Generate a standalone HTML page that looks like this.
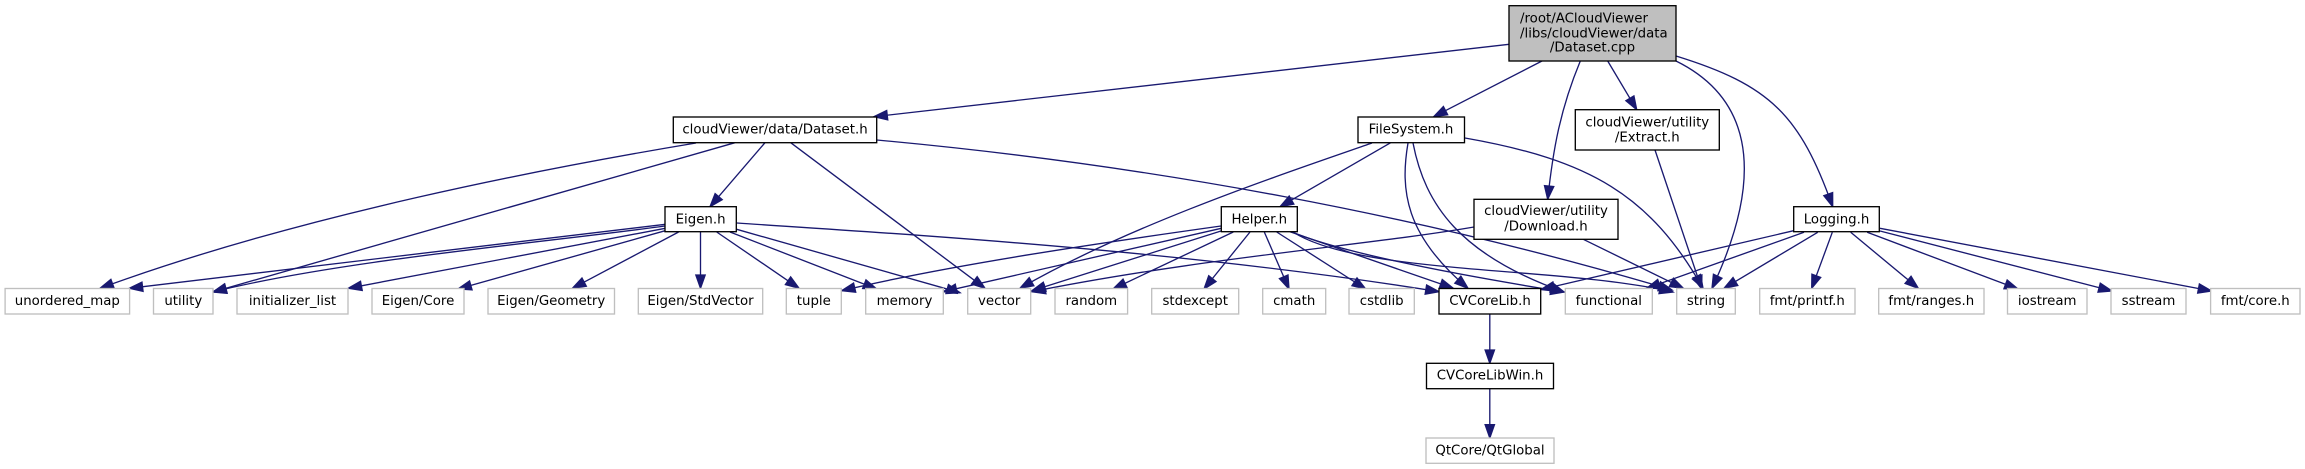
<!DOCTYPE html>
<html>
<head>
<meta charset="utf-8">
<title>Dataset.cpp include graph</title>
<style>
html,body{margin:0;padding:0;background:#fff;width:2305px;height:469px;overflow:hidden}
svg{display:block}
text{font-family:"DejaVu Sans","Liberation Sans",sans-serif;font-size:13.33px;fill:#000;text-anchor:middle}
.n rect{fill:#fff;stroke:#000;stroke-width:1.33}
.g rect{fill:#fff;stroke:#bfbfbf;stroke-width:1.33}
.e path{fill:none;stroke:#191970;stroke-width:1.33;marker-end:url(#a)}
</style>
</head>
<body>
<svg xmlns="http://www.w3.org/2000/svg" width="2305" height="469" viewBox="0 0 2305 469">
<defs>
<marker id="a" markerUnits="userSpaceOnUse" markerWidth="16" markerHeight="12" refX="13.3" refY="4.67" orient="auto" overflow="visible">
<path d="M0,0L13.3,4.67L0,9.33Z" fill="#191970" stroke="#191970" stroke-width="1.33"/>
</marker>
</defs>
<g class="e">
<!-- root -->
<path d="M1509,44.3L874,116.7"/>
<path d="M1542,61L1433.7,116.7"/>
<path d="M1580.3,61C1560,110 1553,150 1547.7,199.3"/>
<path d="M1607.7,61L1636.7,109.7"/>
<path d="M1676,61C1745,95 1770,165 1712,288.3"/>
<path d="M1676,56C1770,85 1800,115 1832.7,206.7"/>
<!-- Dataset.h -->
<path d="M696,143C546,168 300,215 100,288.3"/>
<path d="M735,142.7L213,292"/>
<path d="M765,142.7L710,206.7"/>
<path d="M790.7,142.7L985,288.3"/>
<path d="M876.7,140C1150,165 1420,215 1672,290"/>
<!-- Eigen.h -->
<path d="M665.3,224.3L129.3,288.3"/>
<path d="M665,226C550,242 340,260 213,292"/>
<path d="M665.3,228.3L348.3,288.3"/>
<path d="M665.3,230.7L458,289"/>
<path d="M678.6,232L572.4,288.3"/>
<path d="M700.5,232L700.5,288.3"/>
<path d="M716.7,232L799,288.3"/>
<path d="M730,232L876.7,289"/>
<path d="M736.7,229.3L960,292.7"/>
<path d="M737,223C900,234 1180,250 1439,291.7"/>
<!-- FileSystem.h -->
<path d="M1372,143C1280,175 1130,225 1020,288.3"/>
<path d="M1390.7,142.7L1280,206.7"/>
<path d="M1408,143C1400,190 1405,235 1468,288.3"/>
<path d="M1413,143C1425,205 1460,255 1564,292"/>
<path d="M1465,138C1590,160 1650,195 1703,288.3"/>
<!-- Helper.h -->
<path d="M1221,226C1100,243 950,265 841.7,290.7"/>
<path d="M1221.3,228.3L943.3,291.7"/>
<path d="M1221,231L1032,290.7"/>
<path d="M1233.3,232L1113,289"/>
<path d="M1250,232L1204,289"/>
<path d="M1264.3,232L1289,289"/>
<path d="M1276.7,232L1365.7,289"/>
<path d="M1290,231.7L1453.3,288.3"/>
<path d="M1292,232C1340,252 1440,272 1564,292"/>
<path d="M1293,232C1360,275 1560,266 1673,292"/>
<!-- Download.h -->
<path d="M1474,227C1370,245 1200,258 1032,291.7"/>
<path d="M1583.3,239.3L1683.3,288.3"/>
<!-- Extract.h -->
<path d="M1655,150L1701.7,289"/>
<!-- Logging.h -->
<path d="M1793.7,230.7L1541,289.5"/>
<path d="M1804,232.3L1646.7,288.3"/>
<path d="M1817.7,232.3L1724,288.3"/>
<path d="M1832.3,232.3L1811.7,288.3"/>
<path d="M1850.7,232.3L1918.3,288.3"/>
<path d="M1867.2,232.3L2018,289"/>
<path d="M1880,231L2112,291"/>
<path d="M1880,228.3L2211.6,291"/>
<!-- CVCoreLib -->
<path d="M1489.8,314.3L1489.8,363.3"/>
<path d="M1489.8,388.7L1489.8,438"/>
</g>

<rect x="1509" y="5.7" width="167" height="55.3" fill="#bfbfbf" stroke="#000" stroke-width="1.33"/>
<text x="1520" y="22.7" style="text-anchor:start">/root/ACloudViewer</text>
<text x="1520" y="37.3" style="text-anchor:start">/libs/cloudViewer/data</text>
<text x="1592.5" y="51.7">/Dataset.cpp</text>

<g class="n">
<rect x="673.3" y="117" width="203.4" height="25.7"/>
<text x="775" y="133.3">cloudViewer/data/Dataset.h</text>
<rect x="1358" y="117" width="106.5" height="25.7"/>
<text x="1411" y="133.3">FileSystem.h</text>
<rect x="1575.3" y="109.7" width="144" height="40.3"/>
<text x="1647.3" y="126.7">cloudViewer/utility</text>
<text x="1647.3" y="141.7">/Extract.h</text>
<rect x="1474" y="199.3" width="144" height="40"/>
<text x="1546" y="215">cloudViewer/utility</text>
<text x="1546" y="230.7">/Download.h</text>
<rect x="665" y="206.7" width="71.3" height="25"/>
<text x="700.6" y="223.3">Eigen.h</text>
<rect x="1221.3" y="206.7" width="76" height="25"/>
<text x="1259.3" y="223.3">Helper.h</text>
<rect x="1793.7" y="206.7" width="85.6" height="25"/>
<text x="1836.5" y="223.3">Logging.h</text>
<rect x="1439" y="288.5" width="101.7" height="25.5"/>
<text x="1490" y="305">CVCoreLib.h</text>
<rect x="1426.5" y="363.3" width="127" height="25.4"/>
<text x="1490" y="379.7">CVCoreLibWin.h</text>
</g>

<g class="g">
<rect x="5.1" y="288.5" width="124.5" height="25.5"/><text x="67.3" y="305">unordered_map</text>
<rect x="153.5" y="288.5" width="59.5" height="25.5"/><text x="183.3" y="305">utility</text>
<rect x="237" y="288.5" width="111" height="25.5"/><text x="292.5" y="305">initializer_list</text>
<rect x="372" y="288.5" width="92" height="25.5"/><text x="418" y="305">Eigen/Core</text>
<rect x="488" y="288.5" width="126.5" height="25.5"/><text x="551.2" y="305">Eigen/Geometry</text>
<rect x="638.3" y="288.5" width="124.4" height="25.5"/><text x="700.5" y="305">Eigen/StdVector</text>
<rect x="786.3" y="288.5" width="55" height="25.5"/><text x="813.8" y="305">tuple</text>
<rect x="865.7" y="288.5" width="77.6" height="25.5"/><text x="904.5" y="305">memory</text>
<rect x="967.7" y="288.5" width="63" height="25.5"/><text x="999.2" y="305">vector</text>
<rect x="1055" y="288.5" width="72.6" height="25.5"/><text x="1091.3" y="305">random</text>
<rect x="1151.7" y="288.5" width="87" height="25.5"/><text x="1195.2" y="305">stdexcept</text>
<rect x="1262.7" y="288.5" width="63" height="25.5"/><text x="1294.2" y="305">cmath</text>
<rect x="1349" y="288.5" width="65.3" height="25.5"/><text x="1381.7" y="305">cstdlib</text>
<rect x="1565.3" y="288.5" width="87" height="25.5"/><text x="1608.8" y="305">functional</text>
<rect x="1676.7" y="288.5" width="58.6" height="25.5"/><text x="1706" y="305">string</text>
<rect x="1759.7" y="288.5" width="95.3" height="25.5"/><text x="1807.3" y="305">fmt/printf.h</text>
<rect x="1878.7" y="288.5" width="105.3" height="25.5"/><text x="1931.3" y="305">fmt/ranges.h</text>
<rect x="2007.5" y="288.5" width="79.5" height="25.5"/><text x="2047.2" y="305">iostream</text>
<rect x="2111" y="288.5" width="75" height="25.5"/><text x="2148.5" y="305">sstream</text>
<rect x="2210.6" y="288.5" width="89.4" height="25.5"/><text x="2255.3" y="305">fmt/core.h</text>
<rect x="1426" y="438" width="128" height="25.3"/><text x="1490" y="454.5">QtCore/QtGlobal</text>
</g>
</svg>
</body>
</html>
